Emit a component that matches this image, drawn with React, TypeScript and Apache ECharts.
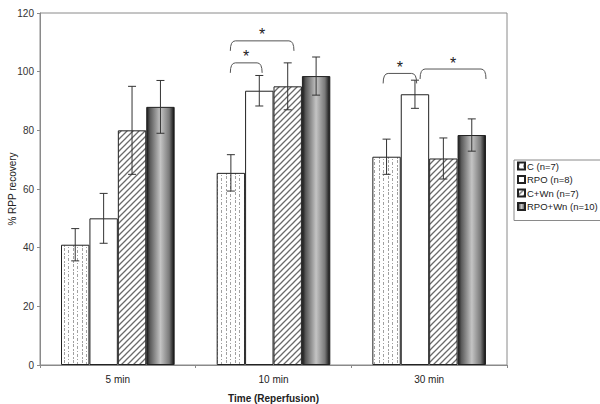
import React, { useEffect, useRef } from "react";
import * as echarts from "echarts";

const categories = ["5 min", "10 min", "30 min"];
const seriesNames = ["C (n=7)", "RPO (n=8)", "C+Wn (n=7)", "RPO+Wn (n=10)"];
const cValues = [41, 65.5, 71];
const rpoValues = [50, 93.5, 92.3];
const cwnValues = [80, 95, 70.4];
const rpowValues = [88, 98.5, 78.4];
const cErr = [5.5, 6.2, 6];
const rpoErr = [8.5, 5.2, 4.8];
const cwnErr = [15, 8, 7];
const rpowErr = [9, 6.5, 5.5];
const yTicks = { min: 0, max: 120, interval: 20 };

// significance brackets: category, from bar position, to bar position, y level
const bracketCat = [1, 1, 2, 2];
const bracketFrom = [-0.02, -0.02, -0.12, 1.18];
const bracketTo = [1.1, 2.22, 1.06, 3.5];
const bracketY = [103, 110.5, 99.4, 100.9];

const GAP = 0.27;

function makeDotPattern() {
  const c = document.createElement("canvas");
  c.width = 9;
  c.height = 8;
  const ctx = c.getContext("2d")!;
  ctx.fillStyle = "#ffffff";
  ctx.fillRect(0, 0, 9, 8);
  ctx.fillStyle = "#a0a0a0";
  ctx.fillRect(1, 0, 1, 3);
  ctx.fillRect(1, 5, 1, 2);
  ctx.fillRect(5, 2, 1, 3);
  ctx.fillRect(5, 7, 1, 1);
  return c;
}

function makeHatchPattern() {
  const s = 6;
  const c = document.createElement("canvas");
  c.width = s;
  c.height = s;
  const ctx = c.getContext("2d")!;
  ctx.fillStyle = "#ffffff";
  ctx.fillRect(0, 0, s, s);
  ctx.strokeStyle = "#6a6a6a";
  ctx.lineWidth = 1.3;
  ctx.beginPath();
  ctx.moveTo(0, s);
  ctx.lineTo(s, 0);
  ctx.moveTo(-1, 1);
  ctx.lineTo(1, -1);
  ctx.moveTo(s - 1, s + 1);
  ctx.lineTo(s + 1, s - 1);
  ctx.stroke();
  return c;
}

export default function App() {
  const ref = useRef<HTMLDivElement>(null);
  useEffect(() => {
    if (!ref.current) return;
    const chart = echarts.init(ref.current, null, { renderer: "svg" });
    const font = "Liberation Sans, Arial, sans-serif";
    const dot = makeDotPattern();
    const hatch = makeHatchPattern();
    const colors: any[] = [
      { image: dot, repeat: "repeat" },
      "#ffffff",
      { image: hatch, repeat: "repeat" },
      new echarts.graphic.LinearGradient(0, 0, 1, 0, [
        { offset: 0, color: "#1a1a1a" },
        { offset: 0.12, color: "#5a5a5a" },
        { offset: 0.5, color: "#c4c4c4" },
        { offset: 0.82, color: "#7a7a7a" },
        { offset: 1, color: "#111111" },
      ]),
    ];
    const values = [cValues, rpoValues, cwnValues, rpowValues];
    const errs = [cErr, rpoErr, cwnErr, rpowErr];

    const errData: any[] = [];
    values.forEach((vals, s) => {
      vals.forEach((v, i) => {
        errData.push([i, s, v - errs[s][i], v + errs[s][i]]);
      });
    });
    const bracketData = bracketCat.map((c, i) => [c, bracketFrom[i], bracketTo[i], bracketY[i]]);

    const barX = (api: any, cat: number, pos: number) => {
      const center = api.coord([cat, 0])[0];
      const band = api.size([1, 0])[0];
      const total = band * (1 - GAP);
      const w = total / 4;
      return center - total / 2 + w * (pos + 0.5);
    };

    const barSeries = values.map((vals, s) => ({
      type: "bar",
      name: seriesNames[s],
      data: vals,
      barGap: "0%",
      barCategoryGap: "27%",
      itemStyle: { color: colors[s], borderColor: "#222", borderWidth: 1 },
    }));

    chart.setOption({
      animation: false,
      textStyle: { fontFamily: font },
      grid: {
        left: 40,
        right: 93,
        top: 13,
        bottom: 39,
        show: true,
        borderColor: "#8a8a8a",
        borderWidth: 1,
        containLabel: false,
        outerBoundsMode: "none",
      },
      legend: {
        orient: "vertical",
        left: 514,
        top: 160,
        padding: [1, 4, 9, 3],
        itemWidth: 7,
        itemHeight: 7,
        itemGap: 3.5,
        borderColor: "#8a8a8a",
        borderWidth: 1,
        borderRadius: 0,
        textStyle: { fontSize: 9.5, color: "#222", padding: [0, 0, 0, -3], fontFamily: font },
        data: seriesNames.map((n) => ({ name: n, icon: "rect" })),
      },
      xAxis: {
        type: "category",
        data: categories,
        name: "Time (Reperfusion)",
        nameLocation: "middle",
        nameGap: 28,
        nameMoveOverlap: false,
        nameTextStyle: { fontSize: 10, fontWeight: "bold", color: "#222", fontFamily: font },
        axisLine: { lineStyle: { color: "#8a8a8a" } },
        axisTick: { show: true, length: 3, lineStyle: { color: "#8a8a8a" } },
        axisLabel: { fontSize: 10, color: "#222", margin: 9, fontFamily: font },
      },
      yAxis: {
        type: "value",
        min: yTicks.min,
        max: yTicks.max,
        interval: yTicks.interval,
        name: "% RPP recovery",
        nameLocation: "middle",
        nameGap: 23,
        nameMoveOverlap: false,
        nameRotate: 90,
        nameTextStyle: { fontSize: 10, color: "#222", fontFamily: font },
        splitLine: { show: false },
        axisLine: { show: true, lineStyle: { color: "#8a8a8a" } },
        axisTick: { show: true, length: 3, lineStyle: { color: "#8a8a8a" } },
        axisLabel: { fontSize: 10, color: "#333", margin: 6, fontFamily: font },
      },
      series: [
        ...barSeries,
        {
          type: "custom",
          name: "err",
          z: 10,
          silent: true,
          data: errData,
          encode: { x: 0, y: [2, 3] },
          renderItem: (params: any, api: any) => {
            const cat = api.value(0);
            const s = api.value(1);
            const x = barX(api, cat, s);
            const yl = api.coord([cat, api.value(2)])[1];
            const yh = api.coord([cat, api.value(3)])[1];
            const cap = 4;
            const st = { stroke: "#333", lineWidth: 1, fill: "none" };
            return {
              type: "group",
              children: [
                { type: "line", shape: { x1: x, y1: yl, x2: x, y2: yh }, style: st },
                { type: "line", shape: { x1: x - cap, y1: yl, x2: x + cap, y2: yl }, style: st },
                { type: "line", shape: { x1: x - cap, y1: yh, x2: x + cap, y2: yh }, style: st },
              ],
            };
          },
        },
        {
          type: "custom",
          name: "brackets",
          z: 10,
          silent: true,
          data: bracketData,
          encode: { x: 0, y: 3 },
          renderItem: (params: any, api: any) => {
            const cat = api.value(0);
            const x1 = barX(api, cat, api.value(1));
            const x2 = barX(api, cat, api.value(2));
            const y = api.coord([cat, api.value(3)])[1];
            const h = 10;
            const r = 5;
            const d = `M ${x1} ${y + h} Q ${x1} ${y} ${x1 + r} ${y} L ${x2 - r} ${y} Q ${x2} ${y} ${x2} ${y + h}`;
            return {
              type: "group",
              children: [
                {
                  type: "path",
                  shape: { pathData: d },
                  style: { stroke: "#555", lineWidth: 1, fill: "none" },
                },
                {
                  type: "text",
                  x: (x1 + x2) / 2,
                  y: y + 2,
                  style: {
                    text: "*",
                    fontSize: 16,
                    fontFamily: font,
                    fill: "#222",
                    align: "center",
                    verticalAlign: "bottom",
                  },
                },
              ],
            };
          },
        },
      ],
    });
    return () => chart.dispose();
  }, []);
  return (
    <div
      ref={ref}
      style={{ width: 600, height: 404, position: "absolute", left: 0, top: 0, background: "#fff" }}
    />
  );
}
